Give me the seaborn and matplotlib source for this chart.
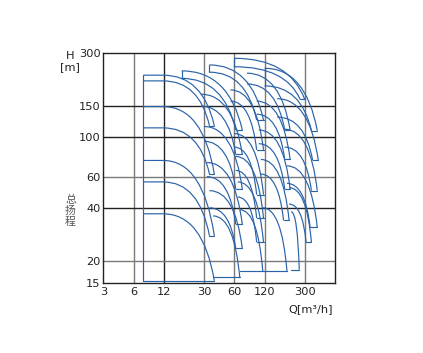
import numpy as np
import seaborn as sns
import matplotlib
matplotlib.use("Agg")
import matplotlib.pyplot as plt
from matplotlib.path import Path
from matplotlib.patches import PathPatch
from matplotlib.ticker import NullLocator

sns.set_theme(style="white")
plt.rcParams['font.family'] = ['DejaVu Sans', 'Noto Sans CJK SC']

# ejes
x_ticks = [3, 6, 12, 30, 60, 120, 300]
y_ticks = [15, 20, 40, 60, 100, 150, 300]
x_grid_dark = [12]
x_grid_light = [6, 30, 60, 120, 300]
y_grid_dark = [40, 100, 150]
y_grid_light = [20, 60]

# zonas de cada familia de bombas (A..E)
# caudal donde empieza la zona
tile_q0 = [[7.5, 7.5, 7.5, 7.5],
           [18, 28, 30, 32, 34, 37],
           [34, 55, 60, 62, 65, 68],
           [60, 80, 100, 105, 110, 115],
           [120, 160, 190, 200, 210, 220]]
# caudal hasta donde la curva es plana, por familia
fam_q_flat = [11.8, 18, 34, 60, 120]
# altura a caudal cero de la curva superior
tile_top = [[224, 149, 74, 37],
            [237, 175, 115, 72, 50, 36],
            [256, 185, 105, 78, 56, 39],
            [279, 230, 160, 110, 75, 40],
            [245, 165, 111, 69, 52, 38]]
# altura a caudal cero de la curva inferior
tile_bot = [[208, 113, 56, 15.5],
            [215, 150, 95, 60, 40, 16.2],
            [233, 160, 88, 65, 46, 17.6],
            [250, 200, 135, 92, 62, 17.6],
            [195, 130, 88, 55, 42, 17.9]]
# altura donde terminan las dos curvas (escalón)
tile_end = [[116, 62, 27.8, 15.5],
            [110, 80, 51, 32.3, 23.6, 16.2],
            [125, 85, 47.5, 35, 25.6, 17.6],
            [164, 110, 75, 51, 34, 17.6],
            [109, 74, 50, 31, 25.6, 17.9]]
# caudal final de la curva superior / inferior
tile_qt = [[38, 38, 38, 38],
           [72, 72, 72, 72, 72, 68],
           [117, 117, 117, 117, 117, 115],
           [300, 215, 215, 215, 210, 200],
           [400, 410, 400, 400, 350, 265]]
tile_qb = [[34, 34, 34, 34],
           [62, 62, 62, 62, 62, 68],
           [100, 100, 100, 100, 100, 115],
           [270, 190, 190, 190, 185, 200],
           [350, 360, 350, 340, 310, 235]]

blue = "#2a62a8"
lw = 0.85

fig = plt.figure(figsize=(4.23, 3.53), dpi=100)
ax = fig.add_axes([103.3 / 423, 1 - 283.3 / 353, 231.7 / 423, 230.6 / 353])
ax.set_xscale('log')
ax.set_yscale('log')
ax.set_xlim(3, 600)
ax.set_ylim(15, 300)

for q in x_grid_dark:
    ax.axvline(q, color="#222222", lw=1.0, zorder=1)
for q in x_grid_light:
    ax.axvline(q, color="#7a7a7a", lw=1.0, zorder=1)
for h in y_grid_dark:
    ax.axhline(h, color="#222222", lw=1.0, zorder=1)
for h in y_grid_light:
    ax.axhline(h, color="#7a7a7a", lw=1.0, zorder=1)


def curve(q0, qk, h0, q1, h1):
    # curva H-Q: tramo plano hasta qk, luego cae cada vez más hasta el final
    qk = max(q0, qk)
    qc = qk * (q1 / qk) ** 0.78
    p = Path([(q0, h0), (qk, h0), (qc, h0), (q1, h1)],
             [Path.MOVETO, Path.LINETO, Path.CURVE3, Path.CURVE3])
    ax.add_patch(PathPatch(p, fill=False, edgecolor=blue, lw=lw, zorder=3))


for f in range(len(tile_top)):
    for i in range(len(tile_top[f])):
        q0 = tile_q0[f][i]
        top = tile_top[f][i]
        bot = tile_bot[f][i]
        end = tile_end[f][i]
        qt = tile_qt[f][i]
        qb = tile_qb[f][i]
        curve(q0, fam_q_flat[f], top, qt, end)
        if bot > end:
            curve(q0, fam_q_flat[f], bot, qb, end)
        else:
            ax.plot([q0, qb], [end, end], color=blue, lw=lw, zorder=3)
        ax.plot([qb, qt], [end, end], color=blue, lw=lw, zorder=3)
    # borde izquierdo
    q0 = tile_q0[f][0]
    if f == 0:
        ax.plot([q0, q0], [tile_bot[f][-1], tile_top[f][0]], color=blue, lw=lw, zorder=3)
    else:
        ax.plot([q0, q0], [tile_bot[f][0], tile_top[f][0]], color=blue, lw=lw, zorder=3)

ax.set_xticks(x_ticks)
ax.set_xticklabels([str(v) for v in x_ticks])
ax.set_yticks(y_ticks)
ax.set_yticklabels([str(v) for v in y_ticks])
ax.xaxis.set_minor_locator(NullLocator())
ax.yaxis.set_minor_locator(NullLocator())
ax.tick_params(axis='both', length=0, labelsize=8.2, colors="#222222")
ax.tick_params(axis='x', pad=3)
ax.tick_params(axis='y', pad=2)
for s in ax.spines.values():
    s.set_color("#222222")
    s.set_linewidth(1.0)

fig.text(70.5 / 423, 1 - 56 / 353, "H", ha='center', va='center', fontsize=8.2, color="#222222")
fig.text(69.5 / 423, 1 - 67 / 353, "[m]", ha='center', va='center', fontsize=8.2, color="#222222")
for k, ch in enumerate(["总", "扬", "程"]):
    fig.text(70.5 / 423, 1 - (200 + 11 * k) / 353, ch, ha='center', va='center', fontsize=7.8,
             color="#555555", family=['Noto Sans CJK SC', 'DejaVu Sans'])
fig.text(333 / 423, 1 - 309 / 353, "Q[m³/h]", ha='right', va='center', fontsize=8.2, color="#222222")

fig.savefig("out.png", dpi=100, facecolor="white")
